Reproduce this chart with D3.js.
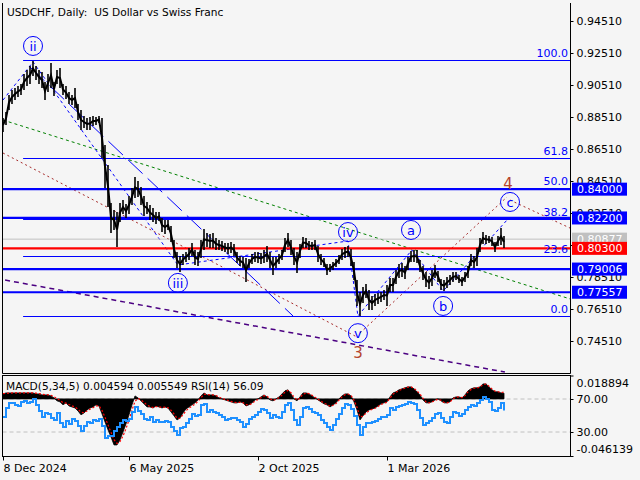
<!DOCTYPE html>
<html><head><meta charset="utf-8">
<script src="https://cdn.jsdelivr.net/npm/d3@7"></script>
<style>
body{margin:0;background:#f5f5f5}
svg{display:block}
text{font-family:"DejaVu Sans",sans-serif}
</style>
</head><body>
<svg id="c" width="640" height="480"></svg>
<script>
// ---------- DATA ----------
const highs = [
0.8845,0.8882,0.8989,0.9020,0.9032,0.9045,0.9057,0.9120,0.9145,0.9170,
0.9201,0.9170,0.9145,0.9132,0.9070,0.9120,0.9189,0.9070,0.9145,0.9157,
0.9057,0.9045,0.9007,0.8989,0.9032,0.8932,0.8895,0.8857,0.8845,0.8851,
0.8857,0.8851,0.8857,0.8845,0.8676,0.8551,0.8313,0.8270,0.8257,0.8313,
0.8332,0.8307,0.8357,0.8407,0.8476,0.8451,0.8413,0.8357,0.8320,0.8301,
0.8282,0.8257,0.8257,0.8220,0.8207,0.8207,0.8170,0.8082,0.8007,0.7982,
0.7995,0.8007,0.8032,0.8063,0.8020,0.8007,0.8082,0.8151,0.8126,0.8120,
0.8126,0.8095,0.8082,0.8076,0.8063,0.8063,0.8070,0.8057,0.8007,0.7982,
0.7976,0.7970,0.7963,0.7995,0.8007,0.8007,0.8001,0.8020,0.8045,0.8007,
0.7976,0.7976,0.7995,0.8020,0.8095,0.8126,0.8082,0.8032,0.8007,0.8057,
0.8101,0.8095,0.8076,0.8070,0.8082,0.8045,0.7995,0.7970,0.7932,0.7932,
0.7945,0.7963,0.7988,0.8026,0.8038,0.8045,0.8026,0.7945,0.7832,0.7757,
0.7788,0.7807,0.7770,0.7732,0.7745,0.7751,0.7757,0.7770,0.7801,0.7845,
0.7845,0.7895,0.7932,0.7938,0.7920,0.7976,0.8013,0.8020,0.8020,0.7957,
0.7920,0.7882,0.7857,0.7895,0.7926,0.7888,0.7838,0.7832,0.7851,0.7863,
0.7882,0.7882,0.7863,0.7851,0.7882,0.7920,0.7995,0.7982,0.8032,0.8095,
0.8132,0.8113,0.8107,0.8101,0.8070,0.8107,0.8157,0.8107];
const lows = [
0.8757,0.8801,0.8895,0.8932,0.8957,0.8976,0.8989,0.9020,0.9045,0.9057,
0.9107,0.9082,0.9057,0.9032,0.8957,0.9007,0.9032,0.8982,0.9057,0.9032,
0.8989,0.8963,0.8932,0.8926,0.8907,0.8832,0.8770,0.8782,0.8770,0.8770,
0.8795,0.8801,0.8813,0.8595,0.8407,0.8288,0.8126,0.8145,0.8038,0.8195,
0.8245,0.8220,0.8245,0.8301,0.8345,0.8351,0.8301,0.8232,0.8245,0.8207,
0.8195,0.8182,0.8201,0.8132,0.8120,0.8145,0.8070,0.7970,0.7907,0.7882,
0.7926,0.7945,0.7957,0.7982,0.7926,0.7920,0.7970,0.8020,0.8038,0.8032,
0.8032,0.8020,0.8020,0.8013,0.8007,0.7995,0.8001,0.7982,0.7938,0.7920,
0.7907,0.7820,0.7907,0.7932,0.7945,0.7938,0.7932,0.7938,0.7945,0.7907,
0.7863,0.7907,0.7932,0.7957,0.8007,0.8038,0.7988,0.7926,0.7876,0.7970,
0.8032,0.8032,0.8020,0.8020,0.8020,0.7945,0.7926,0.7913,0.7863,0.7882,
0.7895,0.7913,0.7932,0.7957,0.7970,0.7976,0.7920,0.7832,0.7670,0.7607,
0.7688,0.7720,0.7645,0.7645,0.7670,0.7682,0.7695,0.7707,0.7670,0.7757,
0.7757,0.7807,0.7845,0.7851,0.7838,0.7895,0.7945,0.7945,0.7938,0.7882,
0.7832,0.7788,0.7776,0.7795,0.7845,0.7820,0.7770,0.7763,0.7782,0.7801,
0.7820,0.7832,0.7813,0.7795,0.7820,0.7845,0.7920,0.7907,0.7920,0.8007,
0.8057,0.8057,0.8063,0.8045,0.8007,0.8045,0.8051,0.8032];
const rsi = [
48.2,59.1,65.2,65.2,62.7,61.5,66.4,67.6,65.2,66.4,
70.0,62.7,55.5,48.2,53.0,51.8,47.0,44.5,53.0,40.9,
36.1,43.3,39.7,45.8,43.3,37.3,31.2,37.3,42.1,40.9,
44.5,43.3,45.8,37.3,22.7,25.2,25.2,31.2,36.1,40.9,
44.5,43.3,45.8,54.2,60.3,55.5,51.8,45.8,44.5,48.2,
42.1,44.5,42.1,42.1,43.3,42.1,36.1,31.2,26.4,34.8,
36.1,40.9,45.8,51.8,49.4,50.6,62.7,63.9,54.2,56.7,
54.2,53.0,50.6,48.2,44.5,45.8,47.0,47.0,44.5,42.1,
36.1,39.7,45.8,48.2,50.6,54.2,57.9,56.7,53.0,47.0,
50.6,48.2,47.0,54.2,62.7,65.2,56.7,44.5,38.5,48.2,
59.1,60.3,57.9,54.2,53.0,50.6,44.5,40.9,36.1,32.4,
38.5,45.8,51.8,59.1,63.9,62.7,57.9,49.4,38.5,26.4,
36.1,40.9,40.9,42.1,43.3,45.8,48.2,48.2,50.6,59.1,
56.7,60.3,61.5,62.7,63.9,66.4,65.2,63.9,56.7,47.0,
38.5,40.9,43.3,47.0,51.8,53.0,47.0,42.1,40.9,48.2,
54.2,53.0,49.4,51.8,56.7,60.3,62.7,61.5,65.2,68.8,
72.4,70.0,66.4,56.7,55.5,59.1,65.2,56.1];
const macd = [
0.0040,0.0048,0.0048,0.0048,0.0048,0.0048,0.0048,0.0048,0.0048,0.0048,
0.0048,0.0040,0.0040,0.0032,0.0032,0.0032,0.0024,0.0008,-0.0016,-0.0024,
-0.0048,-0.0032,-0.0057,-0.0065,-0.0073,-0.0097,-0.0129,-0.0113,-0.0089,-0.0073,
-0.0065,-0.0048,-0.0057,-0.0121,-0.0186,-0.0250,-0.0307,-0.0372,-0.0372,-0.0331,
-0.0267,-0.0202,-0.0129,-0.0048,0.0024,0.0008,-0.0016,-0.0040,-0.0065,-0.0065,
-0.0073,-0.0057,-0.0065,-0.0073,-0.0065,-0.0073,-0.0105,-0.0137,-0.0170,-0.0154,
-0.0113,-0.0081,-0.0065,-0.0048,-0.0032,-0.0008,0.0024,0.0048,0.0032,0.0032,
0.0032,0.0024,0.0008,0.0000,-0.0008,-0.0016,-0.0024,-0.0032,-0.0032,-0.0024,
-0.0032,-0.0057,-0.0048,-0.0032,-0.0008,0.0000,0.0016,0.0032,0.0016,-0.0008,
-0.0016,0.0000,0.0016,0.0040,0.0065,0.0073,0.0040,0.0000,-0.0016,0.0016,
0.0048,0.0048,0.0040,0.0024,0.0008,-0.0008,-0.0024,-0.0040,-0.0048,-0.0065,
-0.0048,-0.0032,0.0000,0.0024,0.0040,0.0040,0.0024,-0.0024,-0.0089,-0.0170,
-0.0137,-0.0105,-0.0089,-0.0081,-0.0073,-0.0057,-0.0040,-0.0032,-0.0024,0.0016,
0.0048,0.0057,0.0073,0.0081,0.0089,0.0097,0.0097,0.0081,0.0057,0.0032,
-0.0008,-0.0032,-0.0032,-0.0024,-0.0008,0.0000,-0.0016,-0.0032,-0.0032,-0.0024,
0.0008,0.0016,0.0016,0.0008,0.0032,0.0065,0.0081,0.0089,0.0089,0.0097,
0.0121,0.0121,0.0097,0.0073,0.0057,0.0057,0.0048,0.0046];
const signal = [
0.0042,0.0044,0.0046,0.0048,0.0048,0.0048,0.0048,0.0048,0.0048,0.0048,
0.0048,0.0046,0.0043,0.0038,0.0035,0.0033,0.0029,0.0018,0.0002,-0.0012,
-0.0030,-0.0034,-0.0045,-0.0056,-0.0066,-0.0083,-0.0108,-0.0112,-0.0098,-0.0083,
-0.0071,-0.0057,-0.0056,-0.0092,-0.0148,-0.0210,-0.0270,-0.0330,-0.0360,-0.0345,
-0.0300,-0.0240,-0.0170,-0.0090,-0.0020,0.0004,-0.0008,-0.0028,-0.0050,-0.0062,
-0.0070,-0.0062,-0.0063,-0.0070,-0.0067,-0.0071,-0.0092,-0.0122,-0.0155,-0.0158,
-0.0128,-0.0096,-0.0075,-0.0058,-0.0042,-0.0020,0.0010,0.0038,0.0036,0.0033,
0.0032,0.0027,0.0015,0.0005,-0.0004,-0.0012,-0.0020,-0.0028,-0.0031,-0.0027,
-0.0030,-0.0047,-0.0049,-0.0038,-0.0018,-0.0005,0.0010,0.0026,0.0020,0.0002,
-0.0012,-0.0004,0.0010,0.0030,0.0055,0.0068,0.0050,0.0014,-0.0010,0.0008,
0.0038,0.0046,0.0042,0.0030,0.0014,-0.0002,-0.0018,-0.0034,-0.0045,-0.0060,
-0.0052,-0.0038,-0.0010,0.0016,0.0034,0.0039,0.0028,-0.0010,-0.0068,-0.0145,
-0.0140,-0.0115,-0.0096,-0.0085,-0.0076,-0.0062,-0.0046,-0.0036,-0.0027,0.0006,
0.0038,0.0053,0.0068,0.0078,0.0087,0.0095,0.0097,0.0086,0.0064,0.0040,
0.0004,-0.0024,-0.0032,-0.0026,-0.0012,-0.0003,-0.0012,-0.0028,-0.0032,-0.0026,
0.0000,0.0013,0.0016,0.0010,0.0026,0.0056,0.0075,0.0086,0.0089,0.0095,
0.0115,0.0120,0.0102,0.0080,0.0063,0.0058,0.0051,0.0055];

const priceTicks = [0.94510,0.92510,0.90510,0.88510,0.86510,0.84510,0.82510,0.80510,0.78510,0.76510,0.74510];
const dateTickIdx = [0,42,85,128];
const dateTickLabels = ["8 Dec 2024","6 May 2025","2 Oct 2025","1 Mar 2026"];
const levelPrices = [0.84000,0.82200,0.80300,0.79006,0.77557];
const keyLevel = 0.80300;
const currentPrice = 0.80877;
const fibLevels = [0,23.6,38.2,50,61.8,100];
const fibLow = 0.7605, fibHigh = 0.9205, fibStartIdx = 6.7;
const macdTicks = [0.018894,-0.046139];
const rsiTicks = [70,30];
const titleText = "USDCHF, Daily:  US Dollar vs Swiss Franc";
const indText = "MACD(5,34,5) 0.004594 0.005549 RSI(14) 56.09";

const waveLabels = ["ii","iii","iv","v","a","b","c"];
const waveIdx    = [10,58.3,115,118.3,136,146.7,169];
const wavePrice  = [0.9295,0.7814,0.8132,0.7500,0.8145,0.7670,0.8320];
const degreeLabels = ["3","4"];
const degreeIdx = [118.3,168.3];
const degreePrice = [0.7376,0.8432];

const wavePath = [[0,0.8957],[10,0.9195],[58.3,0.7926],[115,0.8076],[118.3,0.7607],[136.3,0.8020],[146.7,0.7763],[168,0.8207]];
const blueChannel = [[9,0.9163],[96.7,0.7607]];
const greenTrend = [[0,0.8832],[189,0.7714]];
const redLower = [[0,0.8626],[118,0.7476]];
const redUp = [[119,0.7501],[168,0.8351]];
const redUpper = [[169,0.8332],[189,0.8157]];
const purpleTrend = [[0.7,0.7832],[167.3,0.7257]];

// ---------- DRAW ----------
const svg = d3.select("#c");
const L = 2.5, R = 570.5, T = 3, B = 373.5, ST = 375.5, SB = 456.5;

const x = d3.scaleLinear().domain([0,189]).range([3,570]);
const y = d3.scaleLinear().domain([0.7251,0.95635]).range([373,3]);
const rsiY = d3.scaleLinear().domain([0,100]).range([456.75,374.25]);
const macdY = d3.scaleLinear().domain([-0.046139,0.018894]).range([456,375.5]);

const defs = svg.append("defs");
defs.append("clipPath").attr("id","cm").append("rect").attr("x",L).attr("y",T).attr("width",R-L).attr("height",B-T);
defs.append("clipPath").attr("id","cs").append("rect").attr("x",L).attr("y",ST).attr("width",R-L).attr("height",SB-ST);

const main = svg.append("g").attr("clip-path","url(#cm)");
const line = d3.line().x(d=>x(d[0])).y(d=>y(d[1]));

// trend lines
main.append("path").attr("d",line(greenTrend)).attr("stroke","#008000").attr("stroke-dasharray","3,3").attr("fill","none");
main.append("path").attr("d",line(redLower)).attr("stroke","#a52a2a").attr("stroke-dasharray","2,3").attr("fill","none");
main.append("path").attr("d",line(redUp)).attr("stroke","#a52a2a").attr("stroke-dasharray","2,3").attr("fill","none");
main.append("path").attr("d",line(redUpper)).attr("stroke","#a52a2a").attr("stroke-dasharray","2,3").attr("fill","none");
main.append("path").attr("d",line(purpleTrend)).attr("stroke","#4b0082").attr("stroke-width",1.5).attr("stroke-dasharray","5,4").attr("fill","none");
main.append("path").attr("d",line(blueChannel)).attr("stroke","#0000ff").attr("stroke-dasharray","20,7").attr("fill","none");
main.append("path").attr("d",line(wavePath)).attr("stroke","#0000ff").attr("stroke-dasharray","3,3").attr("fill","none");

// current price line
main.append("line").attr("x1",L).attr("x2",R).attr("y1",y(currentPrice)).attr("y2",y(currentPrice)).attr("stroke","#c0c0c0");

// fib lines
const fibPrice = fibLevels.map(l => fibLow + (fibHigh-fibLow)*l/100);
main.selectAll(".fib").data(fibPrice).join("line")
  .attr("x1",x(fibStartIdx)).attr("x2",R).attr("y1",d=>Math.round(y(d))+0.5).attr("y2",d=>Math.round(y(d))+0.5)
  .attr("stroke","#0000ff");

// thick levels
main.selectAll(".lvl").data(levelPrices).join("line")
  .attr("x1",L).attr("x2",R).attr("y1",d=>y(d)).attr("y2",d=>y(d))
  .attr("stroke",d=>d===keyLevel?"#ff0000":"#0000ff").attr("stroke-width",2.2);

// price bars
const idx = d3.range(highs.length);
main.append("path")
  .attr("d", d3.line().x(i=>x(i)).y(i=>y((highs[i]+lows[i])/2))(idx))
  .attr("fill","none").attr("stroke","#000").attr("stroke-width",2);
main.selectAll(".bar").data(idx).join("line")
  .attr("x1",i=>x(i)).attr("x2",i=>x(i)).attr("y1",i=>y(highs[i])).attr("y2",i=>y(lows[i]))
  .attr("stroke","#000").attr("stroke-width",1.6);

// fib labels
svg.selectAll(".fibt").data(fibLevels).join("text")
  .attr("x",568).attr("y",(d,i)=>Math.round(y(fibPrice[i]))-3)
  .attr("text-anchor","end").attr("font-size",11).attr("fill","#0000ff")
  .text(d=>d.toFixed(1));

// wave labels
const wl = svg.append("g");
waveLabels.forEach((t,i)=>{
  const cx = x(waveIdx[i]), cy = y(wavePrice[i]);
  wl.append("circle").attr("cx",cx).attr("cy",cy).attr("r",9.5).attr("fill","none").attr("stroke","#0000ff");
  wl.append("text").attr("x",cx).attr("y",cy).attr("dy","0.36em").attr("text-anchor","middle")
    .attr("font-size",13).attr("fill","#0000ff").text(t);
});
degreeLabels.forEach((t,i)=>{
  wl.append("text").attr("x",x(degreeIdx[i])).attr("y",y(degreePrice[i])).attr("dy","0.36em").attr("text-anchor","middle")
    .attr("font-size",15).attr("fill","#b5452d").text(t);
});

// title
svg.append("text").attr("x",7).attr("y",16).attr("font-size",10.6).attr("fill","#000")
  .attr("xml:space","preserve").style("white-space","pre").text(titleText);

// main frame
svg.append("path").attr("d",`M${L},${T}V${B}H${R}V${T}`).attr("fill","none").attr("stroke","#000");

// price axis
const pa = svg.append("g").attr("transform",`translate(${R},0)`)
  .call(d3.axisRight(y).tickValues(priceTicks).tickSize(3).tickPadding(3).tickFormat(d=>d.toFixed(5)));
pa.select(".domain").remove();
pa.selectAll("text").attr("font-family","DejaVu Sans").attr("font-size",11).attr("fill","#000");
pa.selectAll("line").attr("stroke","#000");

// price boxes
const boxes = [currentPrice, ...levelPrices];
const bx = svg.append("g");
boxes.forEach(p=>{
  const col = p===currentPrice ? "#c0c0c0" : (p===keyLevel ? "#ff0000" : "#0000ff");
  bx.append("rect").attr("x",572).attr("y",y(p)-6.5).attr("width",55).attr("height",13).attr("fill",col);
  bx.append("text").attr("x",577).attr("y",y(p)+4).attr("font-size",11).attr("fill","#fff").text(p.toFixed(5));
});

// ---------- SUB PANEL ----------
const sub = svg.append("g").attr("clip-path","url(#cs)");
rsiTicks.forEach(v=>{
  sub.append("line").attr("x1",L).attr("x2",R).attr("y1",rsiY(v)).attr("y2",rsiY(v))
    .attr("stroke","#c0c0c0").attr("stroke-dasharray","4,3");
});
sub.append("path")
  .attr("d", d3.area().x(i=>x(i)).y0(macdY(0)).y1(i=>macdY(macd[i]))(idx))
  .attr("fill","#000").attr("stroke","#000").attr("stroke-width",0.8);
sub.append("path")
  .attr("d", d3.line().x(i=>x(i)).y(i=>macdY(signal[i]))(idx))
  .attr("fill","none").attr("stroke","#ff0000").attr("stroke-width",1.2).attr("stroke-dasharray","2,2");
sub.append("path")
  .attr("d", d3.line().x(i=>x(i)).y(i=>rsiY(rsi[i])).curve(d3.curveStepAfter)(idx))
  .attr("fill","none").attr("stroke","#1e90ff").attr("stroke-width",2);

svg.append("text").attr("x",6).attr("y",390).attr("font-size",10.6).attr("fill","#000").text(indText);
svg.append("rect").attr("x",L).attr("y",ST).attr("width",R-L).attr("height",SB-ST).attr("fill","none").attr("stroke","#000");

const ma = svg.append("g").attr("transform",`translate(${R},0)`)
  .call(d3.axisRight(macdY).tickValues(macdTicks).tickSize(3).tickPadding(3).tickFormat(d=>d.toFixed(6)));
ma.select(".domain").remove();
ma.selectAll("text").attr("font-family","DejaVu Sans").attr("font-size",11).attr("fill","#000")
  .attr("dy",(d)=> d>0 ? "1.0em" : "-0.3em");
const ra = svg.append("g").attr("transform",`translate(${R},0)`)
  .call(d3.axisRight(rsiY).tickValues(rsiTicks).tickSize(3).tickPadding(3).tickFormat(d=>d.toFixed(2)));
ra.select(".domain").remove();
ra.selectAll("text").attr("font-family","DejaVu Sans").attr("font-size",11).attr("fill","#000");

// time axis
const ta = svg.append("g").attr("transform",`translate(0,${SB})`)
  .call(d3.axisBottom(x).tickValues(dateTickIdx).tickSize(4).tickFormat((d,i)=>dateTickLabels[i]));
ta.select(".domain").remove();
ta.selectAll("text").attr("font-family","DejaVu Sans").attr("font-size",11).attr("fill","#000")
  .attr("text-anchor","start").attr("y",15).attr("dy",0);
</script>
</body></html>
